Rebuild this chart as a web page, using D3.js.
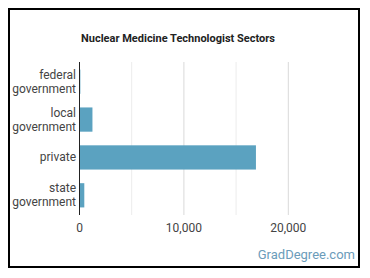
<!DOCTYPE html>
<html>
<head>
<meta charset="utf-8">
<script src="https://cdn.jsdelivr.net/npm/d3@7"></script>
<style>
  body { margin: 0; background: #fff; }
  svg { font-family: Roboto, sans-serif; }
  .grid line { stroke: #d9d9d9; }
  .grid line.minor { stroke: #ececec; }
</style>
</head>
<body>
<svg width="370" height="278"></svg>
<script>
var sectors = [['federal', 'government'], ['local', 'government'], ['private'], ['state', 'government']];
var workers = [80, 1240, 16900, 460];
var ticks = [0, 10000, 20000];
var gridTicks = [5000, 10000, 15000, 20000];

var svg = d3.select('svg');

// frame
svg.append('rect')
  .attr('x', 9).attr('y', 9)
  .attr('width', 350).attr('height', 258)
  .attr('fill', 'none')
  .attr('stroke', '#000')
  .attr('stroke-width', 2);

svg.append('text')
  .attr('x', 178).attr('y', 42)
  .attr('text-anchor', 'middle')
  .style('font-size', '11px')
  .style('font-weight', 'bold')
  .style('fill', '#222')
  .text('Nuclear Medicine Technologist Sectors');

var x = d3.scaleLinear()
          .domain([0, 25000])
          .range([79.5, 340.5]);

var y = d3.scaleBand()
          .domain(d3.range(sectors.length))
          .range([62, 215])
          .paddingInner(0.36)
          .paddingOuter(0.2);

svg.append('g')
  .attr('class', 'grid')
  .selectAll('line')
  .data(gridTicks)
  .enter()
  .append('line')
    .attr('class', d => d % 10000 ? 'minor' : null)
    .attr('x1', d => x(d)).attr('x2', d => x(d))
    .attr('y1', 62).attr('y2', 215);

svg.append('g')
  .selectAll('rect')
  .data(workers)
  .enter()
  .append('rect')
    .attr('x', x(0))
    .attr('y', (d, i) => y(i))
    .attr('width', d => x(d) - x(0))
    .attr('height', y.bandwidth())
    .attr('fill', '#5ba2c0');

svg.append('line')
  .attr('x1', x(0)).attr('x2', x(0))
  .attr('y1', 62).attr('y2', 215)
  .attr('stroke', '#222');

var labels = svg.append('g')
  .selectAll('text')
  .data(sectors)
  .enter()
  .append('text')
    .attr('text-anchor', 'end')
    .style('font-size', '12px')
    .style('fill', '#444');

labels.each(function(d, i) {
  var cy = y(i) + y.bandwidth() / 2;
  var t = d3.select(this);
  d.forEach((line, j) => {
    t.append('tspan')
      .attr('x', 76)
      .attr('y', cy + (j - (d.length - 1) / 2) * 14 + 4)
      .text(line);
  });
});

svg.append('g')
  .selectAll('text')
  .data(ticks)
  .enter()
  .append('text')
    .attr('x', d => x(d))
    .attr('y', 232)
    .attr('text-anchor', 'middle')
    .style('font-size', '12px')
    .style('fill', '#444')
    .text(d => d3.format(',')(d));

svg.append('text')
  .attr('x', 355).attr('y', 259)
  .attr('text-anchor', 'end')
  .style('font-size', '13px')
  .style('fill', '#6b9cba')
  .text('GradDegree.com');
</script>
</body>
</html>
